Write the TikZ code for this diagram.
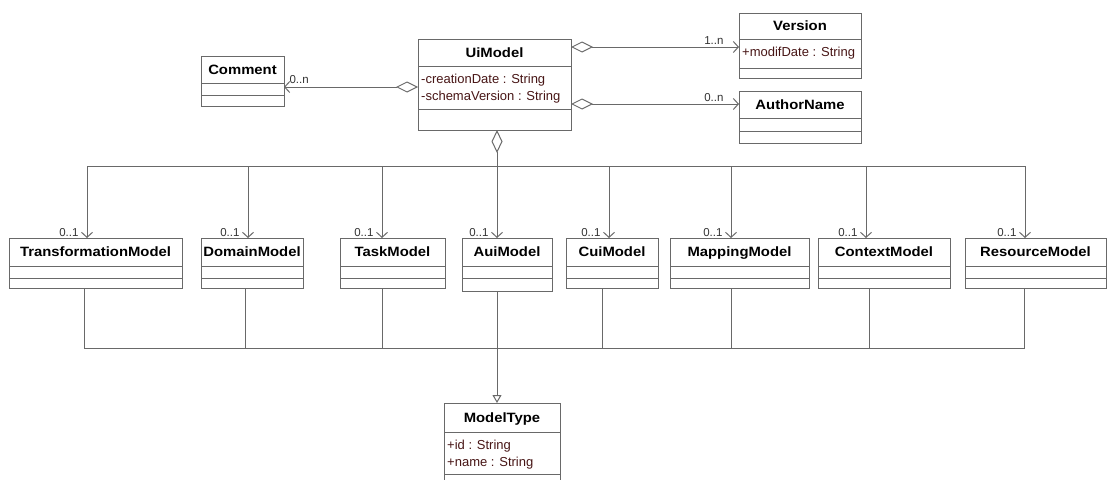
\documentclass[tikz,border=0pt]{standalone}
\usepackage{fontspec}
\setmainfont{Liberation Sans}
\newfontfamily\titlefont[FakeStretch=1.1]{Liberation Sans}
\usetikzlibrary{arrows.meta, positioning, calc}
\definecolor{linegray}{RGB}{105, 105, 105}
\definecolor{attrred}{RGB}{72, 22, 22}

\tikzset{
  classbox/.style={draw=linegray, fill=white, line width=1pt, inner sep=0pt, outer sep=0pt, anchor=north west},
  classline/.style={draw=linegray, line width=1pt},
  classname/.style={font=\titlefont\fontsize{13.5}{16}\selectfont\bfseries, inner sep=0pt, text height=9.7pt, text depth=0pt},
  classattr/.style={anchor=north west, align=left, inner xsep=3pt, inner ysep=8pt, text=attrred, font=\fontsize{13}{16.5}\selectfont},
  mult/.style={font=\fontsize{11.5}{13}\selectfont, text=black!80, inner sep=1pt},
  assoc/.style={draw=linegray, line width=1pt, -{Straight Barb[length=5pt, width=11pt]}},
  aggr/.style={assoc, {Diamond[open, length=22pt, width=11pt]}-{Straight Barb[length=5pt, width=11pt]}},
  gen/.style={draw=linegray, line width=1pt, -{Triangle[open, length=8pt, width=9pt]}}
}

% id, left, top, right, divider 1, divider 2, bottom, name, attributes
\newcommand{\umlclass}[9]{%
  \node[classbox, minimum width={#4-#2}, minimum height={#7-#3}] (#1) at (#2,#3) {};
  \draw[classline] (#2,#5) -- (#4,#5) (#2,#6) -- (#4,#6);
  \node[classname] (#1-name) at ({(#2+#4)/2},{(#3+#5)/2}) {#8};
  \node[classattr] (#1-attr) at (#2,#5) {#9};
}

\begin{document}
\begin{tikzpicture}[x=1pt, y=-1pt]
  \fill[white] (0,0) rectangle (1107,479);
  \useasboundingbox (0,0) rectangle (1107,479);
  \clip (0,0) rectangle (1107,479);

  % --- top classes ---
  \umlclass{uimodel}{418}{39}{571}{66}{109}{130}{UiModel}{-creationDate : String\\-schemaVersion : String}
  \umlclass{comment}{201}{56}{284}{83}{95}{106}{Comment}{}
  \umlclass{version}{739}{13}{861}{39}{68}{78}{Version}{+modifDate : String}
  \umlclass{authorname}{739}{91}{861}{118}{131}{143}{AuthorName}{}

  % --- models ---
  \umlclass{transformation}{9}{238}{182}{266}{278}{288}{TransformationModel}{}
  \umlclass{domain}{201}{238}{303}{266}{278}{288}{DomainModel}{}
  \umlclass{task}{340}{238}{445}{266}{278}{288}{TaskModel}{}
  \umlclass{aui}{462}{238}{552}{266}{278}{291}{AuiModel}{}
  \umlclass{cui}{566}{238}{658}{266}{278}{288}{CuiModel}{}
  \umlclass{mapping}{670}{238}{809}{266}{278}{288}{MappingModel}{}
  \umlclass{context}{818}{238}{950}{266}{278}{288}{ContextModel}{}
  \umlclass{resource}{965}{238}{1106}{266}{278}{288}{ResourceModel}{}

  \umlclass{modeltype}{444}{403}{560}{432}{474}{500}{ModelType}{+id : String\\+name : String}

  % --- associations of UiModel ---
  \draw[aggr] ([yshift=-48]uimodel.north west) -- ([yshift=-31]comment.north east)
    node[mult, anchor=south west, xshift=4pt, yshift=2pt] {0..n};
  \draw[aggr] ([yshift=-8]uimodel.north east) -- ([yshift=-34]version.north west)
    node[mult, anchor=south east, xshift=-14pt, yshift=1pt] {1..n};
  \draw[aggr] ([yshift=-65]uimodel.north east) -- ([yshift=-13]authorname.north west)
    node[mult, anchor=south east, xshift=-14pt, yshift=1pt] {0..n};

  \coordinate (hub) at ([xshift=2.5, yshift=-36]uimodel.south);
  \draw[draw=linegray, line width=1pt, {Diamond[open, length=23pt, width=11pt]}-] ([xshift=2.5]uimodel.south) -- (hub);
  \foreach \n/\dx in {transformation/78, domain/47, task/42, aui/35, cui/43, mapping/61, context/48, resource/60}
    \draw[assoc] (hub) -| ([xshift=\dx]\n.north west)
      node[mult, anchor=south east, xshift=-7pt] {0..1};

  % --- generalisation to ModelType ---
  \coordinate (bus) at ([xshift=53, yshift=55]modeltype.north west);
  \foreach \n/\dx in {transformation/75, domain/44, task/42, aui/35, cui/36, mapping/61, context/51, resource/59}
    \draw[classline] ([xshift=\dx]\n.south west) |- (bus);
  \draw[gen] (bus) -- ([xshift=53]modeltype.north west);
\end{tikzpicture}
\end{document}
